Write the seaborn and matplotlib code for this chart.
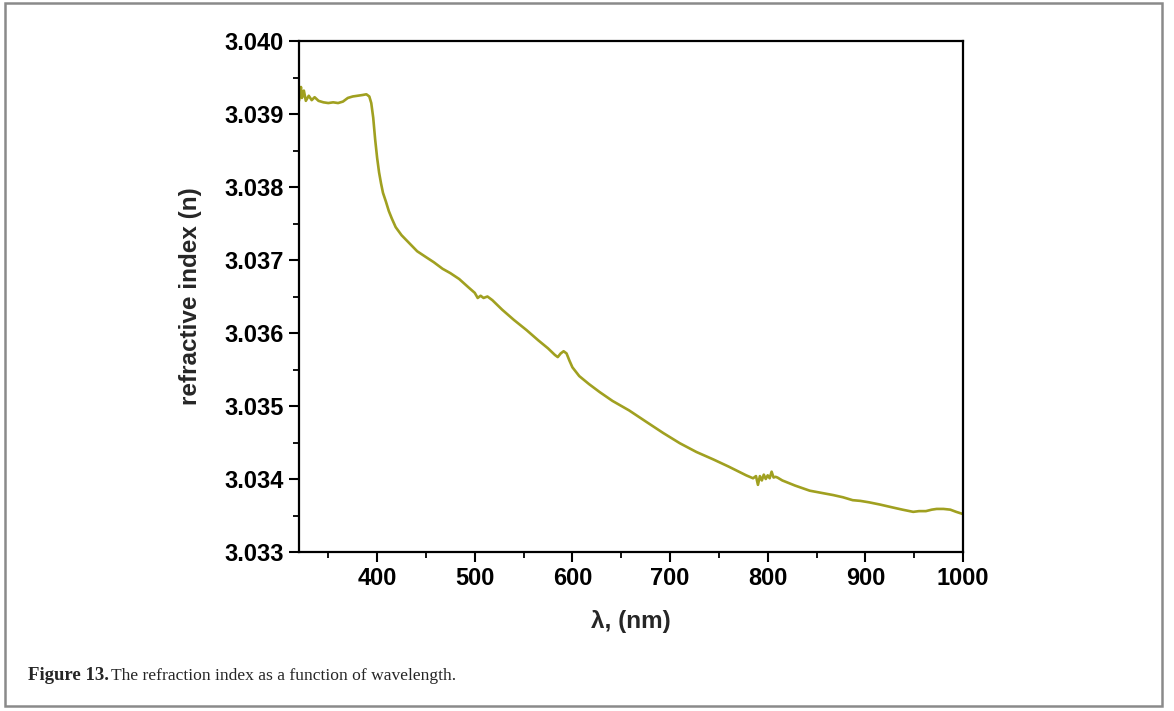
import numpy as np
import pandas as pd
import matplotlib
matplotlib.use("Agg")
import matplotlib.pyplot as plt
from matplotlib.ticker import MultipleLocator, FormatStrFormatter
from matplotlib.patches import Rectangle
import seaborn as sns

wavelength = [320, 322, 323, 325, 327, 330, 333, 336, 340, 345, 350, 355, 360, 365, 370,
              375, 380, 385, 389, 392, 394, 396, 398, 400, 402, 404, 406, 409, 412, 415,
              419, 425, 433, 441, 450, 458, 467, 475, 484, 494, 500, 503, 506, 509, 513,
              518, 528, 540, 553, 565, 575, 582, 585, 588, 591, 594, 597, 600, 607, 617,
              628, 641, 658, 676, 693, 710, 727, 744, 760, 778, 785, 788, 790, 792, 794,
              796, 798, 800, 802, 804, 806, 808, 810, 815, 828, 843, 855, 867, 877, 887,
              895, 904, 915, 928, 938, 949, 955, 962, 968, 973, 980, 987, 993, 1000]

refractive_index = [3.03918, 3.03937, 3.03922, 3.03932, 3.03918, 3.03925, 3.03919, 3.03923,
                    3.03918, 3.03916, 3.03915, 3.03916, 3.03915, 3.03917, 3.03922, 3.03924,
                    3.03925, 3.03926, 3.03927, 3.03924, 3.03915, 3.03895, 3.03865, 3.03840,
                    3.03820, 3.03805, 3.03792, 3.03780, 3.03767, 3.03757, 3.03745, 3.03734,
                    3.03723, 3.03712, 3.03704, 3.03697, 3.03688, 3.03682, 3.03674, 3.03662,
                    3.03655, 3.03648, 3.03651, 3.03648, 3.03650, 3.03645, 3.03632, 3.03618,
                    3.03604, 3.03590, 3.03579, 3.03570, 3.03567, 3.03572, 3.03575, 3.03572,
                    3.03562, 3.03553, 3.03541, 3.03530, 3.03519, 3.03507, 3.03494, 3.03478,
                    3.03463, 3.03449, 3.03437, 3.03427, 3.03417, 3.03405, 3.03401, 3.03404,
                    3.03392, 3.03404, 3.03398, 3.03406, 3.03400, 3.03405, 3.03401, 3.03410,
                    3.03402, 3.03403, 3.03402, 3.03398, 3.03391, 3.03384, 3.03381, 3.03378,
                    3.03375, 3.03371, 3.03370, 3.03368, 3.03365, 3.03361, 3.03358, 3.03355,
                    3.03356, 3.03356, 3.03358, 3.03359, 3.03359, 3.03358, 3.03355, 3.03352]

x_ticks = [400, 500, 600, 700, 800, 900, 1000]
y_ticks = [3.033, 3.034, 3.035, 3.036, 3.037, 3.038, 3.039, 3.040]

df = pd.DataFrame({"wavelength": wavelength, "n": refractive_index})

sns.set_style("ticks")
plt.rcParams["font.family"] = ["Liberation Sans", "DejaVu Sans"]

fig = plt.figure(figsize=(11.74, 7.11), dpi=100)
ax = fig.add_axes([299 / 1174, 1 - 552 / 711, (963 - 299) / 1174, (552 - 41) / 711])

sns.lineplot(data=df, x="wavelength", y="n", ax=ax, color="#a0a020",
             linewidth=1.9, estimator=None, sort=False)

ax.set_xlim(320, 1000)
ax.set_ylim(3.033, 3.040)
ax.set_xticks(x_ticks)
ax.set_yticks(y_ticks)
ax.xaxis.set_minor_locator(MultipleLocator(50))
ax.yaxis.set_minor_locator(MultipleLocator(0.0005))
ax.yaxis.set_major_formatter(FormatStrFormatter("%.3f"))

for sp in ax.spines.values():
    sp.set_linewidth(1.6)
    sp.set_color("black")
ax.tick_params(which="major", direction="out", length=7, width=1.5,
               labelsize=17, pad=4, colors="black")
ax.tick_params(which="minor", direction="out", length=4, width=1.3, colors="black")
for lab in ax.get_xticklabels() + ax.get_yticklabels():
    lab.set_fontweight("bold")

ax.set_xlabel("λ, (nm)", fontsize=17.5, fontweight="bold", labelpad=14)
ax.set_ylabel("refractive index (n)", fontsize=17.5, fontweight="bold", labelpad=16)

# caption
fig.text(28 / 1174, 1 - 676 / 711, "Figure 13.", fontsize=13.5, fontweight="bold",
         family=["Liberation Serif", "DejaVu Serif"], va="center", ha="left")
fig.text(111 / 1174, 1 - 676 / 711, "The refraction index as a function of wavelength.",
         fontsize=12.6, family=["Liberation Serif", "DejaVu Serif"], va="center", ha="left")

# outer frame
fig.patches.append(Rectangle((5 / 1174, 1 - 706 / 711), (1162 - 5) / 1174, (706 - 3) / 711,
                             transform=fig.transFigure, fill=False,
                             edgecolor="#8a8a8a", linewidth=1.8))

fig.savefig("out.png", dpi=100)
